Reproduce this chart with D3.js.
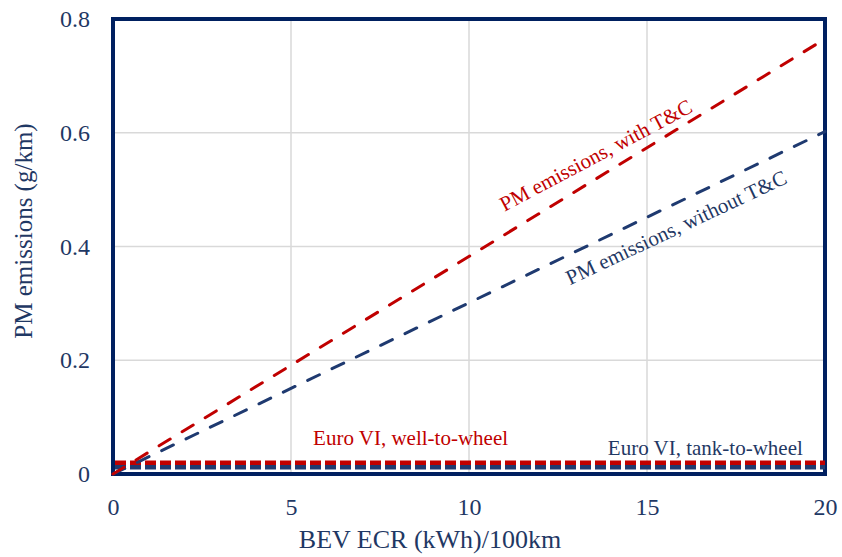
<!DOCTYPE html>
<html lang="en">
<head>
    <meta charset="UTF-8">
    <title>PM emissions vs BEV ECR</title>
    <style>
        body {
            margin: 0;
            padding: 0;
            background-color: #fff;
        }

        svg text {
            font-family: 'Liberation Serif', 'Times New Roman', serif;
        }
    </style>
</head>
<body>
<div id="chart"></div>

<script src="https://cdnjs.cloudflare.com/ajax/libs/d3/7.8.5/d3.min.js"></script>
<script>
    // values
    const ecr = [0, 20];
    const pmWithTC = [0, 0.765];
    const pmWithoutTC = [0, 0.602];
    const euroWellToWheel = 0.02;
    const euroTankToWheel = 0.012;
    const xTicks = [0, 5, 10, 15, 20];
    const yTicks = [0, 0.2, 0.4, 0.6, 0.8];

    const width = 842;
    const height = 557;
    const NAVY = "#002060";
    const TEXT_NAVY = "#1f3864";
    const RED = "#c00000";
    const BLUE = "#1f3a70";

    const svg = d3.select("#chart")
        .append("svg")
        .attr("width", width)
        .attr("height", height);

    const x = d3.scaleLinear().domain([0, 20]).range([113, 825]);
    const y = d3.scaleLinear().domain([0, 0.8]).range([474, 19]);

    // gridlines
    svg.append("g")
        .selectAll("line")
        .data(xTicks.slice(1, -1))
        .enter().append("line")
        .attr("x1", d => x(d)).attr("x2", d => x(d))
        .attr("y1", y(0)).attr("y2", y(0.8))
        .attr("stroke", "#d9d9d9")
        .attr("stroke-width", 1.5);

    svg.append("g")
        .selectAll("line")
        .data(yTicks.slice(1, -1))
        .enter().append("line")
        .attr("x1", x(0)).attr("x2", x(20))
        .attr("y1", d => y(d)).attr("y2", d => y(d))
        .attr("stroke", "#d9d9d9")
        .attr("stroke-width", 1.5);

    // axes (labels only, the frame is drawn separately)
    const xAxis = svg.append("g")
        .attr("transform", "translate(0," + y(0) + ")")
        .call(d3.axisBottom(x).tickValues(xTicks).tickSize(0).tickPadding(24).tickFormat(d3.format("d")));

    const yAxis = svg.append("g")
        .attr("transform", "translate(" + x(0) + ",0)")
        .call(d3.axisLeft(y).tickValues(yTicks).tickSize(0).tickPadding(23)
            .tickFormat(d => d === 0 ? "0" : d3.format(".1f")(d)));

    [xAxis, yAxis].forEach(function (a) {
        a.select(".domain").remove();
        a.selectAll("text")
            .attr("fill", TEXT_NAVY)
            .style("font-size", "24px");
    });

    // plot frame
    svg.append("rect")
        .attr("x", x(0)).attr("y", y(0.8))
        .attr("width", x(20) - x(0))
        .attr("height", y(0) - y(0.8))
        .attr("fill", "none")
        .attr("stroke", NAVY)
        .attr("stroke-width", 4);

    // Euro VI limits
    svg.append("line")
        .attr("x1", x(0) + 2).attr("x2", x(20))
        .attr("y1", y(euroWellToWheel)).attr("y2", y(euroWellToWheel))
        .attr("stroke", RED)
        .attr("stroke-width", 4.5)
        .attr("stroke-dasharray", "11,4");

    svg.append("line")
        .attr("x1", x(0) + 2).attr("x2", x(20))
        .attr("y1", y(euroTankToWheel)).attr("y2", y(euroTankToWheel))
        .attr("stroke", BLUE)
        .attr("stroke-width", 4.5)
        .attr("stroke-dasharray", "11,4");

    // PM emission lines
    const line = d3.line()
        .x((d, i) => x(ecr[i]))
        .y(d => y(d));

    svg.append("path")
        .datum(pmWithoutTC)
        .attr("d", line)
        .attr("fill", "none")
        .attr("stroke", BLUE)
        .attr("stroke-width", 3)
        .attr("stroke-linecap", "round")
        .attr("stroke-dasharray", "13,14");

    svg.append("path")
        .datum(pmWithTC)
        .attr("d", line)
        .attr("fill", "none")
        .attr("stroke", RED)
        .attr("stroke-width", 3)
        .attr("stroke-linecap", "round")
        .attr("stroke-dasharray", "13,14");

    // annotations
    const labels = [
        {text: "PM emissions, with T&C", x: 11.0, y: 0.461, angle: -28, color: RED},
        {text: "PM emissions, without T&C", x: 12.84, y: 0.332, angle: -25.2, color: TEXT_NAVY},
        {text: "Euro VI, well-to-wheel", x: 5.62, y: 0.051, angle: 0, color: RED},
        {text: "Euro VI, tank-to-wheel", x: 13.9, y: 0.033, angle: 0, color: TEXT_NAVY}
    ];

    svg.append("g")
        .selectAll("text")
        .data(labels)
        .enter().append("text")
        .attr("transform", d => "translate(" + x(d.x) + "," + y(d.y) + ") rotate(" + d.angle + ")")
        .attr("fill", d => d.color)
        .style("font-size", "21px")
        .text(d => d.text);

    // axis titles
    svg.append("text")
        .attr("x", 430)
        .attr("y", 548)
        .attr("text-anchor", "middle")
        .attr("fill", TEXT_NAVY)
        .style("font-size", "26px")
        .text("BEV ECR (kWh)/100km");

    svg.append("text")
        .attr("transform", "translate(32,231) rotate(-90)")
        .attr("text-anchor", "middle")
        .attr("fill", TEXT_NAVY)
        .style("font-size", "25px")
        .text("PM emissions (g/km)");
</script>
</body>
</html>
